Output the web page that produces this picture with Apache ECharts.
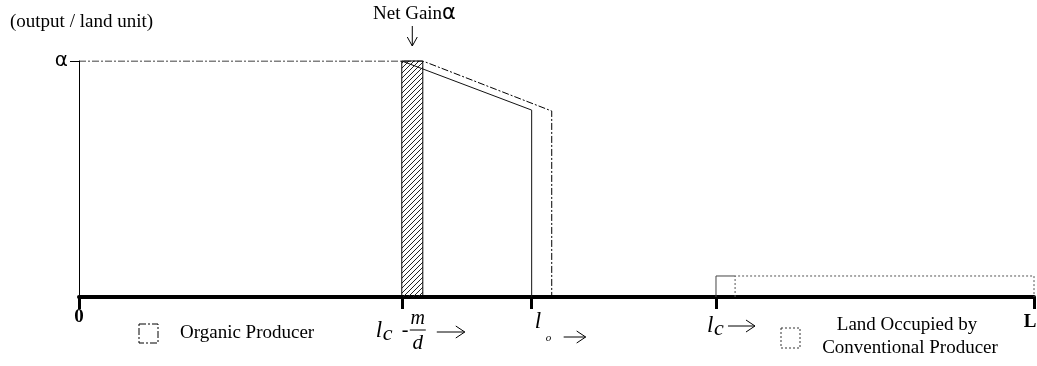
<!DOCTYPE html>
<html>
<head>
<meta charset="utf-8">
<script src="https://cdn.jsdelivr.net/npm/echarts@6/dist/echarts.min.js"></script>
<style>
  html, body { margin: 0; padding: 0; background: #fff; }
  #chart { width: 1037px; height: 366px; }
</style>
</head>
<body>
<div id="chart"></div>
<script>
// land positions (0 .. L = 100) and output per land unit (alpha = 1)
var landMax = 100;
var tickValues = [0, 33.8, 47.4, 66.7, 100];

// organic producer (dash-dot outline)
var organicX = [0, 36.0, 49.5, 49.5];
var organicY = [1, 1, 0.788, 0];

// organic producer, shifted (solid outline)
var shiftedX = [33.8, 47.4, 47.4];
var shiftedY = [1, 0.792, 0];

// net gain strip
var gainFrom = 33.8;
var gainTo = 36.0;

// conventional producer
var convSolidX = [66.7, 66.7, 68.7];
var convSolidY = [0, 0.089, 0.089];
var convDotX = [68.7, 68.7, 100, 100];
var convDotY = [0, 0.089, 0.089, 0];

function pairs(xs, ys) {
    return xs.map(function (x, i) { return [x, ys[i]]; });
}

// hatched fill
var hatch = document.createElement('canvas');
hatch.width = 5;
hatch.height = 5;
var hc = hatch.getContext('2d');
hc.strokeStyle = '#222';
hc.lineWidth = 1;
hc.beginPath();
hc.moveTo(0, 5); hc.lineTo(5, 0);
hc.moveTo(-1, 1); hc.lineTo(1, -1);
hc.moveTo(4, 6); hc.lineTo(6, 4);
hc.stroke();

var serif = 'Liberation Serif';
var dashDot = [7, 2, 2, 2];

var chart = echarts.init(document.getElementById('chart'));

var option = {
    animation: false,
    grid: { left: 79, right: 3, top: 61, bottom: 69 },
    xAxis: {
        type: 'value',
        min: 0,
        max: landMax,
        splitLine: { show: false },
        axisLine: { show: true, onZero: false, lineStyle: { color: '#000', width: 4 } },
        axisTick: {
            show: true,
            customValues: tickValues,
            length: 12,
            lineStyle: { color: '#000', width: 3 }
        },
        axisLabel: { show: false }
    },
    yAxis: {
        type: 'value',
        min: 0,
        max: 1,
        interval: 1,
        splitLine: { show: false },
        axisLine: { show: true, lineStyle: { color: '#000', width: 1 } },
        axisTick: { show: true, customValues: [1], length: 9, lineStyle: { color: '#000' } },
        axisLabel: {
            show: true,
            customValues: [1],
            formatter: function () { return 'α'; },
            color: '#000',
            fontFamily: 'DejaVu Sans',
            fontSize: 20,
            margin: 11
        }
    },
    series: [
        {
            type: 'custom',
            data: [[gainFrom, gainTo]],
            renderItem: function (params, api) {
                var p0 = api.coord([api.value(0), 1]);
                var p1 = api.coord([api.value(1), 0]);
                return {
                    type: 'rect',
                    shape: { x: p0[0], y: p0[1], width: p1[0] - p0[0], height: p1[1] - p0[1] },
                    style: { fill: { image: hatch, repeat: 'repeat' }, stroke: '#000', lineWidth: 1 }
                };
            },
            z: 1
        },
        {
            type: 'line',
            data: pairs(organicX, organicY),
            symbol: 'none',
            lineStyle: { color: '#000', width: 1, type: dashDot },
            z: 2
        },
        {
            type: 'line',
            data: pairs(shiftedX, shiftedY),
            symbol: 'none',
            lineStyle: { color: '#111', width: 1 },
            z: 2
        },
        {
            type: 'line',
            data: pairs(convSolidX, convSolidY),
            symbol: 'none',
            lineStyle: { color: '#444', width: 1 },
            z: 2
        },
        {
            type: 'line',
            data: pairs(convDotX, convDotY),
            symbol: 'none',
            lineStyle: { color: '#555', width: 1, type: [2, 2] },
            z: 2
        }
    ]
};

chart.setOption(option);

// labels placed from the axis scale
function px(v) { return chart.convertToPixel({ xAxisIndex: 0 }, v); }
function txt(x, y, s, size, extra) {
    var st = { text: s, fill: '#000', font: (extra && extra.font ? extra.font + ' ' : '') + size + 'px "' + serif + '"',
        textAlign: (extra && extra.align) || 'left', textVerticalAlign: 'middle' };
    return { type: 'text', x: x, y: y, style: st, z: 10 };
}
function arrow(x, y, w) {
    return [
        { type: 'line', shape: { x1: x, y1: y, x2: x + w, y2: y }, style: { stroke: '#000', lineWidth: 1 } },
        { type: 'polyline', shape: { points: [[x + w - 9, y - 6], [x + w, y], [x + w - 9, y + 6]] },
          style: { stroke: '#000', fill: null, lineWidth: 1 } }
    ];
}

var x0 = px(tickValues[0]), x1 = px(tickValues[1]), x2 = px(tickValues[2]),
    x3 = px(tickValues[3]), x4 = px(tickValues[4]);
var gx = (px(gainFrom) + px(gainTo)) / 2;

var graphics = [
    txt(10, 22, '(output / land unit)', 19),
    txt(373, 14, 'Net Gain', 19),
    { type: 'text', x: 442, y: 14, style: { text: 'α', fill: '#000', font: '21px "DejaVu Sans"', textVerticalAlign: 'middle' } },
    { type: 'line', shape: { x1: gx, y1: 26, x2: gx, y2: 46 }, style: { stroke: '#000', lineWidth: 1 } },
    { type: 'polyline', shape: { points: [[gx - 5, 37], [gx, 46], [gx + 5, 37]] }, style: { stroke: '#000', fill: null, lineWidth: 1 } },

    txt(x0, 317, '0', 19, { font: 'bold', align: 'center' }),
    txt(x4 - 4, 322, 'L', 19, { font: 'bold', align: 'center' }),

    // l_c - m/d ->
    txt(x1 - 26, 331, 'l', 23, { font: 'italic' }),
    txt(x1 - 19, 334, 'c', 22, { font: 'italic' }),
    txt(x1 + 0, 331, '-', 20),
    txt(x1 + 16, 319, 'm', 20, { font: 'italic', align: 'center' }),
    { type: 'line', shape: { x1: x1 + 8, y1: 330, x2: x1 + 24, y2: 330 }, style: { stroke: '#000', lineWidth: 1 } },
    txt(x1 + 16, 343, 'd', 21, { font: 'italic', align: 'center' }),

    // l_o ->
    txt(x2 + 3, 322, 'l', 23, { font: 'italic' }),
    txt(x2 + 14, 338, 'o', 11, { font: 'italic' }),

    // l_c ->
    txt(x3 - 9, 326, 'l', 23, { font: 'italic' }),
    txt(x3 - 2, 329, 'c', 22, { font: 'italic' }),

    // legend
    { type: 'rect', shape: { x: 139, y: 324, width: 19, height: 19 }, style: { stroke: '#000', fill: null, lineWidth: 1, lineDash: dashDot } },
    txt(180, 333, 'Organic Producer', 19),
    { type: 'rect', shape: { x: 781, y: 328, width: 19, height: 20 }, style: { stroke: '#333', fill: null, lineWidth: 1, lineDash: [2, 2] } },
    txt(907, 325, 'Land Occupied by', 19, { align: 'center' }),
    txt(910, 348, 'Conventional Producer', 19, { align: 'center' })
];
graphics = graphics.concat(arrow(x1 + 35, 332, 28), arrow(x2 + 32, 337, 22), arrow(x3 + 12, 326, 27));

chart.setOption({ graphic: graphics });
</script>
</body>
</html>
